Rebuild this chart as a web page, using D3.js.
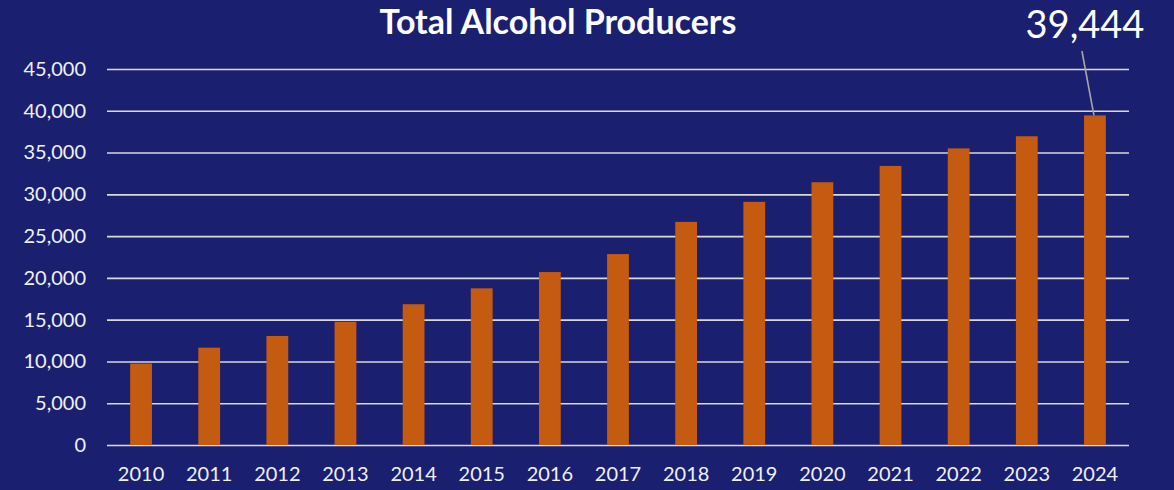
<!DOCTYPE html>
<html>
<head>
<meta charset="utf-8">
<script src="https://cdn.jsdelivr.net/npm/d3@7"></script>
<style>
  html, body { margin: 0; padding: 0; background: #1b1f6f; }
  svg { display: block; }
</style>
</head>
<body>
<svg id="chart" width="1174" height="490"></svg>
<script>
// Producers counted per year
const years = ["2010","2011","2012","2013","2014","2015","2016","2017","2018","2019","2020","2021","2022","2023","2024"];
const producers = [9750, 11650, 13050, 14750, 16850, 18750, 20700, 22850, 26700, 29100, 31450, 33400, 35500, 36950, 39444];
const yTicks = [0, 5000, 10000, 15000, 20000, 25000, 30000, 35000, 40000, 45000];
const highlightYear = "2024";

const svg = d3.select("#chart");
const W = 1174, H = 490;
const margin = { left: 107, right: 45, top: 69, bottom: 45 };

svg.append("rect").attr("width", W).attr("height", H).attr("fill", "#1b1f6f");

const x = d3.scaleBand()
  .domain(years)
  .range([margin.left, W - margin.right])
  .paddingInner(0.68)
  .paddingOuter(0.34);

const y = d3.scaleLinear()
  .domain([0, 45000])
  .range([H - margin.bottom, margin.top]);

const fmt = d3.format(",");
const font = "Lato, 'Open Sans', sans-serif";

// horizontal gridlines with labels on the left
const yAxis = d3.axisLeft(y)
  .tickValues(yTicks)
  .tickFormat(fmt)
  .tickSize(-(W - margin.left - margin.right))
  .tickPadding(21);

const gy = svg.append("g")
  .attr("transform", `translate(${margin.left},0)`)
  .call(yAxis);
gy.select(".domain").remove();
gy.selectAll(".tick line").attr("stroke", "#d9d9d9").attr("stroke-width", 1.6);
gy.selectAll(".tick text")
  .attr("fill", "#eef0f6")
  .style("font-family", font)
  .style("font-size", "20px");

// year labels below the plot
const xAxis = d3.axisBottom(x).tickSize(0).tickPadding(22);
const gx = svg.append("g")
  .attr("transform", `translate(0,${H - margin.bottom})`)
  .call(xAxis);
gx.select(".domain").remove();
gx.selectAll(".tick text")
  .attr("fill", "#eef0f6")
  .style("font-family", font)
  .style("font-size", "20px");

// bars
svg.append("g")
  .selectAll("rect")
  .data(years.map((yr, i) => ({ year: yr, value: producers[i] })))
  .join("rect")
  .attr("x", d => x(d.year))
  .attr("width", x.bandwidth())
  .attr("y", d => y(d.value))
  .attr("height", d => y(0) - y(d.value))
  .attr("fill", "#c55a11");

// title
svg.append("text")
  .attr("x", 558)
  .attr("y", 34)
  .attr("text-anchor", "middle")
  .attr("fill", "#ffffff")
  .style("font-family", font)
  .style("font-weight", "bold")
  .style("font-size", "34px")
  .text("Total Alcohol Producers");

// callout for the latest year
const hi = producers[years.indexOf(highlightYear)];
const hx = x(highlightYear) + x.bandwidth() / 2;
svg.append("line")
  .attr("x1", hx - 13)
  .attr("y1", 51)
  .attr("x2", hx - 1)
  .attr("y2", y(hi))
  .attr("stroke", "#a6a6a6")
  .attr("stroke-width", 1.6);
svg.append("text")
  .attr("x", 1085)
  .attr("y", 38)
  .attr("text-anchor", "middle")
  .attr("fill", "#ffffff")
  .style("font-family", font)
  .style("font-size", "38px")
  .text(fmt(hi));
</script>
</body>
</html>
